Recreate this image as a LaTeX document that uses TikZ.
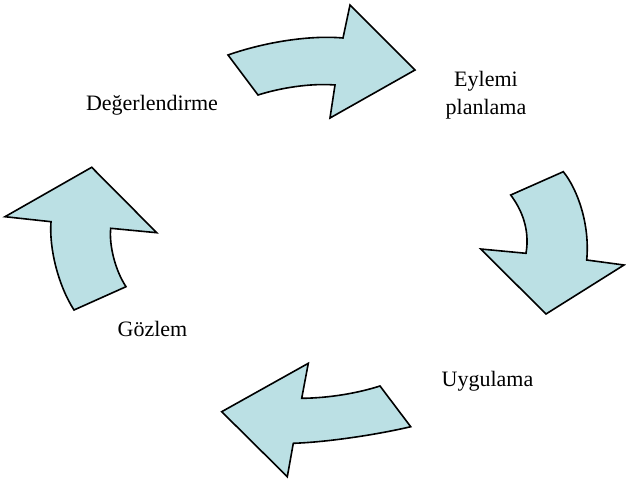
\documentclass[tikz,border=0pt]{standalone}
\usepackage{fontspec}
\setmainfont{Liberation Serif}
\usepackage{tikz}
\usetikzlibrary{positioning}
\definecolor{cyclefill}{RGB}{187,224,228}
\tikzstyle{cyclearrow} = [draw,line width=1.6pt,line join=miter,fill=cyclefill]
\tikzstyle{stage} = [inner sep=0,align=center,font=\fontsize{22}{27.6}\selectfont]

\begin{document}
\begin{tikzpicture}[x=1pt,y=-1pt]
      \useasboundingbox (0,0) rectangle (626,482);
      \draw[cyclearrow] (228,55) .. controls (265,42) and (310,35) .. (343,38)
        -- (350,5) -- (415,70) -- (330,118) -- (335,85)
        .. controls (310,83) and (280,88) .. (258,95) -- cycle;
      \draw[cyclearrow] (563.3,171.7) .. controls (578,190) and (590,225) .. (586.7,260)
        -- (624,265) -- (546,314) -- (480.7,249) -- (526,253.3)
        .. controls (530,230) and (522,210) .. (510.7,195) -- cycle;
      \draw[cyclearrow] (380,386) .. controls (358,393) and (330,398) .. (301.7,398.3)
        -- (308.3,363.3) -- (221.7,411.7) -- (287.3,476.7) -- (293.3,443.3)
        .. controls (330,442) and (380,434) .. (410.7,426.7) -- cycle;
      \draw[cyclearrow] (126,286.7) .. controls (115,270) and (109,245) .. (110.7,228.3)
        -- (156.7,232.7) -- (91.7,167.3) -- (5,216.7) -- (51,221.7)
        .. controls (49,248) and (58,285) .. (74,310) -- cycle;
      \node[stage,anchor=base] (deger) at (152,110) {Değerlendirme};
      \node[stage] (eylem) at (486,95.3) {Eylemi\\planlama};
      \node[stage,anchor=base] (uygu) at (487.5,386) {Uygulama};
      \node[stage,anchor=base] (gozlem) at (152.5,336.7) {Gözlem};
    \end{tikzpicture}
\end{document}
